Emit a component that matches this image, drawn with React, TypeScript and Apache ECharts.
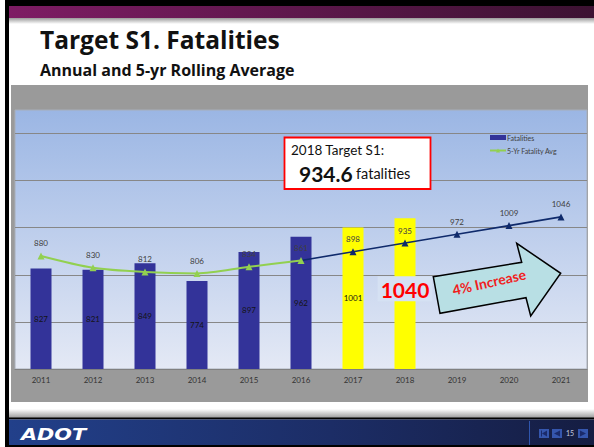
import React, { useEffect, useRef } from "react";
import * as echarts from "echarts";

const categories = ["2011", "2012", "2013", "2014", "2015", "2016", "2017", "2018", "2019", "2020", "2021"];
const fatalities: (number | null)[] = [827, 821, 849, 774, 897, 962, 1001, 1040, null, null, null];
const highlightYears = ["2017", "2018"];
const bigLabelYear = "2018";
const avgActual: (number | null)[] = [880, 830, 812, 806, 834, 861, null, null, null, null, null];
const avgProjected: (number | null)[] = [null, null, null, null, null, 861, 898, 935, 972, 1009, 1046];
const yMin = 400;
const yMax = 1500;
const yInterval = 200;

const FONT = "Lato, 'Noto Sans', sans-serif";
const HEAD_FONT = "'Open Sans', 'Noto Sans', sans-serif";
const LABEL_COLOR = "#404040";

export default function App() {
  const ref = useRef<HTMLDivElement>(null);

  useEffect(() => {
    if (!ref.current) return;
    const chart = echarts.init(ref.current, undefined, { renderer: "svg" });

    const barData = fatalities.map((v, i) => {
      const year = categories[i];
      const item: any = {
        value: v,
        itemStyle: { color: highlightYears.includes(year) ? "#ffff00" : "#333399" },
      };
      if (year === bigLabelYear) {
        item.label = {
          show: true,
          position: "inside",
          offset: [0, -5],
          formatter: "{big|{c}}",
          rich: {
            big: {
              fontSize: 21,
              fontWeight: "bold",
              color: "#ff0000",
              backgroundColor: "#d5e1f3",
              padding: [3, 3, 1, 3],
              fontFamily: FONT,
            },
          },
        };
      }
      return item;
    });

    const projData = avgProjected.map((v, i) =>
      i === avgActual.filter((x) => x !== null).length - 1
        ? { value: v, symbol: "none", label: { show: false } }
        : v
    );

    const option: any = {
      animation: false,
      textStyle: { fontFamily: FONT },
      legend: {
        left: 484,
        top: 129,
        orient: "vertical",
        itemWidth: 16,
        itemHeight: 5,
        itemGap: 6,
        textStyle: { fontSize: 7, color: LABEL_COLOR, padding: [0, 0, 0, -4] },
        data: [
          { name: "Fatalities", icon: "rect" },
          { name: "5-Yr Fatality Avg" },
        ],
      },
      grid: {
        left: 15,
        top: 110,
        width: 572,
        height: 259,
        show: true,
        borderWidth: 1,
        borderColor: "#a8aeb8",
        backgroundColor: {
          type: "linear",
          x: 0,
          y: 0,
          x2: 0,
          y2: 1,
          colorStops: [
            { offset: 0, color: "#9bb6e4" },
            { offset: 1, color: "#e4e9f5" },
          ],
        },
      },
      xAxis: {
        type: "category",
        data: categories,
        axisLine: { show: true, lineStyle: { color: "#808080", width: 1 } },
        axisTick: { show: false },
        axisLabel: { fontSize: 8, color: "#333333", margin: 7 },
      },
      yAxis: {
        type: "value",
        min: yMin,
        max: yMax,
        interval: yInterval,
        axisLabel: { show: false },
        axisLine: { show: false },
        axisTick: { show: false },
        splitLine: {
          show: true,
          showMinLine: false,
          showMaxLine: false,
          lineStyle: { color: "#878787", width: 1 },
        },
      },
      series: [
        {
          name: "Fatalities",
          type: "bar",
          barWidth: 21,
          data: barData,
          itemStyle: { color: "#333399" },
          label: {
            show: true,
            position: "inside",
            fontSize: 8,
            color: "#141414",
            textBorderWidth: 0,
            textBorderColor: "transparent",
          },
          z: 2,
        },
        {
          name: "5-Yr Projection",
          type: "line",
          data: projData,
          symbol: "triangle",
          symbolSize: 7,
          lineStyle: { color: "#0f2a6b", width: 1.6 },
          itemStyle: { color: "#0f2a6b" },
          label: { show: true, position: "top", distance: 5, fontSize: 8, color: LABEL_COLOR },
          z: 3,
        },
        {
          name: "5-Yr Fatality Avg",
          type: "line",
          data: avgActual,
          smooth: 0.3,
          symbol: "triangle",
          symbolSize: 7,
          lineStyle: { color: "#92d050", width: 2 },
          itemStyle: { color: "#92d050" },
          label: { show: true, position: "top", distance: 5, fontSize: 8, color: LABEL_COLOR },
          z: 4,
        },
      ],
      graphic: [
        // slide frame
        { type: "rect", z: -20, silent: true, shape: { x: 5, y: 0, width: 589, height: 6 }, style: { fill: "#000" } },
        { type: "rect", z: -20, silent: true, shape: { x: 5, y: 0, width: 4, height: 447 }, style: { fill: "#000" } },
        {
          type: "rect",
          z: -20,
          silent: true,
          shape: { x: 9, y: 6, width: 585, height: 12 },
          style: {
            fill: new echarts.graphic.LinearGradient(0, 0, 1, 0, [
              { offset: 0, color: "#7e1c64" },
              { offset: 1, color: "#3c1232" },
            ]),
          },
        },
        {
          type: "rect",
          z: -20,
          silent: true,
          shape: { x: 9, y: 18, width: 585, height: 6 },
          style: {
            fill: new echarts.graphic.LinearGradient(0, 0, 0, 1, [
              { offset: 0, color: "#9a9a9a" },
              { offset: 1, color: "#ffffff" },
            ]),
          },
        },
        // title
        {
          type: "text",
          z: 10,
          x: 40,
          y: 39,
          style: {
            text: "Target S1. Fatalities",
            fontFamily: HEAD_FONT,
            fontSize: 24.5,
            fontWeight: "bold",
            fill: "#111111",
            verticalAlign: "middle",
          },
        },
        {
          type: "text",
          z: 10,
          x: 40,
          y: 70,
          style: {
            text: "Annual and 5-yr Rolling Average",
            fontFamily: HEAD_FONT,
            fontSize: 16,
            fontWeight: "bold",
            fill: "#111111",
            verticalAlign: "middle",
          },
        },
        // gray chart area
        { type: "rect", z: -10, silent: true, shape: { x: 11, y: 85, width: 577, height: 317 }, style: { fill: "#9a9a9a" } },
        // footer shadow and bar
        {
          type: "rect",
          z: -20,
          silent: true,
          shape: { x: 9, y: 409, width: 585, height: 9 },
          style: {
            fill: new echarts.graphic.LinearGradient(0, 0, 0, 1, [
              { offset: 0, color: "#ffffff" },
              { offset: 1, color: "#9a9a9a" },
            ]),
          },
        },
        { type: "rect", z: -20, silent: true, shape: { x: 5, y: 417.5, width: 589, height: 2 }, style: { fill: "#000" } },
        {
          type: "rect",
          z: -20,
          silent: true,
          shape: { x: 9, y: 419.5, width: 585, height: 25.5 },
          style: {
            fill: new echarts.graphic.LinearGradient(0, 0, 1, 0, [
              { offset: 0, color: "#22408a" },
              { offset: 0.55, color: "#1c2d66" },
              { offset: 1, color: "#151d42" },
            ]),
          },
        },
        { type: "rect", z: -20, silent: true, shape: { x: 5, y: 445, width: 589, height: 2 }, style: { fill: "#000" } },
        { type: "line", z: -5, silent: true, shape: { x1: 529.5, y1: 421, x2: 529.5, y2: 445 }, style: { stroke: "#2f55ad", lineWidth: 1 } },
        {
          type: "text",
          z: 10,
          x: 21,
          y: 434,
          scaleX: 1.3,
          style: {
            text: "ADOT",
            fontFamily: "'DejaVu Sans', sans-serif",
            fontSize: 16,
            fontWeight: "bold",
            fontStyle: "italic",
            fill: "#ffffff",
            verticalAlign: "middle",
          },
        },
        // nav icons
        { type: "rect", z: 5, shape: { x: 539, y: 429, width: 10, height: 9 }, style: { fill: "#3556ad" } },
        { type: "polygon", z: 6, shape: { points: [[547, 430.5], [547, 436.5], [542, 433.5]] }, style: { fill: "#1a2a6a" } },
        { type: "rect", z: 6, shape: { x: 541, y: 430.5, width: 1, height: 6 }, style: { fill: "#1a2a6a" } },
        { type: "rect", z: 5, shape: { x: 552, y: 429, width: 10, height: 9 }, style: { fill: "#3556ad" } },
        { type: "polygon", z: 6, shape: { points: [[560, 430.5], [560, 436.5], [554, 433.5]] }, style: { fill: "#1a2a6a" } },
        {
          type: "text",
          z: 6,
          x: 566,
          y: 433,
          style: { text: "15", fontSize: 7, fontFamily: FONT, fill: "#c4cbe0", verticalAlign: "middle" },
        },
        { type: "rect", z: 5, shape: { x: 578, y: 429, width: 10, height: 9 }, style: { fill: "#3556ad" } },
        { type: "polygon", z: 6, shape: { points: [[580, 430.5], [580, 436.5], [586, 433.5]] }, style: { fill: "#1a2a6a" } },
        // target box
        {
          type: "rect",
          z: 100,
          shape: { x: 284.5, y: 137.5, width: 146, height: 51.5 },
          style: { fill: "#ffffff", stroke: "#ff0000", lineWidth: 1.8 },
        },
        {
          type: "text",
          z: 101,
          x: 291,
          y: 149.5,
          style: {
            text: "2018 Target S1:",
            fontFamily: FONT,
            fontSize: 13.5,
            fill: "#111111",
            verticalAlign: "middle",
          },
        },
        {
          type: "text",
          z: 101,
          x: 299,
          y: 173,
          style: {
            text: "{b|934.6} {n|fatalities}",
            fill: "#111111",
            verticalAlign: "middle",
            rich: {
              b: { fontFamily: FONT, fontSize: 21, fontWeight: "bold", fill: "#111111" },
              n: { fontFamily: FONT, fontSize: 14.5, fill: "#111111" },
            },
          },
        },
        // increase arrow
        {
          type: "polygon",
          z: 100,
          shape: {
            points: [
              [433.3, 276.7],
              [521.7, 262.3],
              [516.7, 243.3],
              [560.7, 273.3],
              [530.7, 316],
              [526, 297.7],
              [440, 313.3],
            ],
          },
          style: { fill: "#b8dfe4", stroke: "#000000", lineWidth: 1.5, lineJoin: "miter" },
        },
        {
          type: "text",
          z: 101,
          x: 489,
          y: 282,
          rotation: 0.22,
          style: {
            text: "4% Increase",
            fontFamily: FONT,
            fontSize: 14,
            fontWeight: "bold",
            fill: "#f01e1e",
            align: "center",
            verticalAlign: "middle",
          },
        },
      ],
    };

    chart.setOption(option);
    return () => chart.dispose();
  }, []);

  return (
    <div
      ref={ref}
      style={{ position: "fixed", left: 0, top: 0, width: 594, height: 447, background: "#ffffff" }}
    />
  );
}
